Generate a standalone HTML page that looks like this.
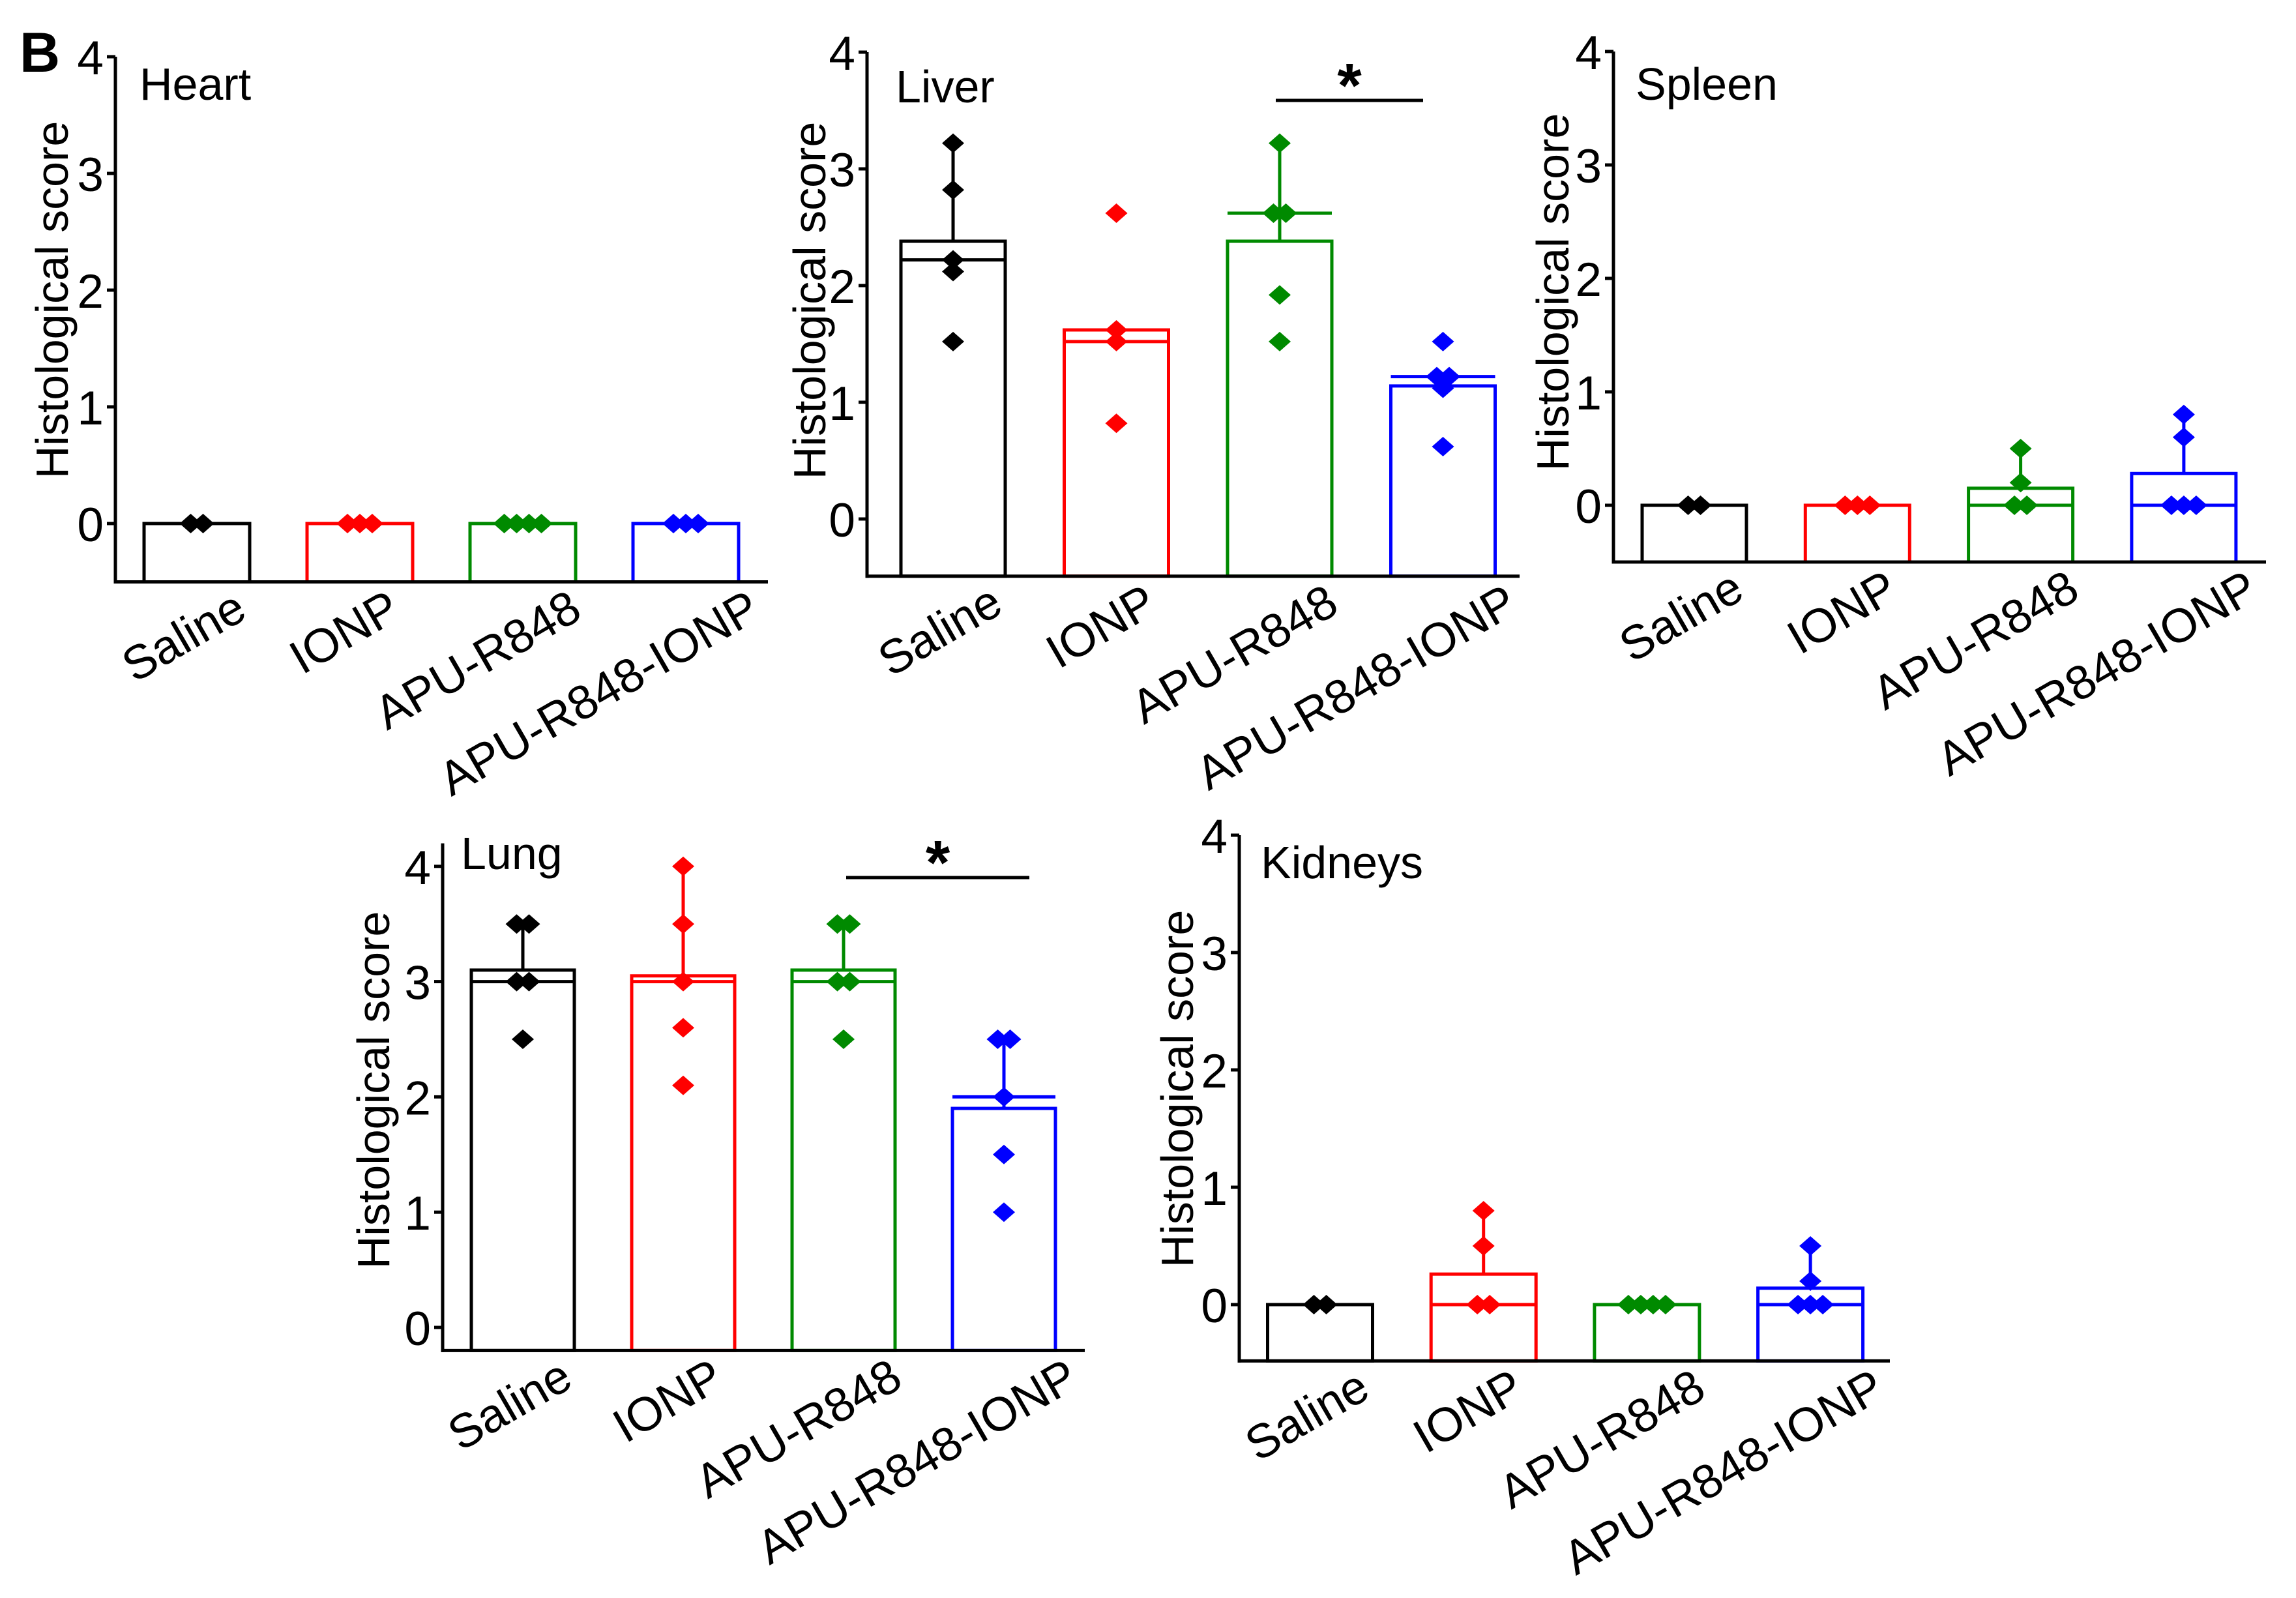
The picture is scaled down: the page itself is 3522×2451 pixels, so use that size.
<!DOCTYPE html>
<html><head><meta charset="utf-8"><style>
html,body{margin:0;padding:0;background:#fff}
svg{display:block;font-family:"Liberation Sans",Arial,sans-serif}
</style></head><body>
<svg id="fig" width="3522" height="2451" viewBox="0 0 3522 2451" xmlns="http://www.w3.org/2000/svg">
<rect width="3522" height="2451" fill="#fff"/>
<text x="30" y="110" font-size="86" font-weight="bold">B</text>
</svg>
<script>
const categories = ["Saline","IONP","APU-R848","APU-R848-IONP"];
const colors = ["#000000","#ff0000","#008a00","#0000ff"];
const yTicks = [0,1,2,3,4];

const heartMean = [0,0,0,0];
const heartMedian = [0,0,0,0];
const heartErr = [null,null,null,null];
const heartPoints = [[0,0],[0,0,0],[0,0,0,0],[0,0,0]];

const liverMean = [2.38,1.62,2.38,1.14];
const liverMedian = [2.22,1.52,2.62,1.22];
const liverErr = [3.22,null,3.22,null];
const liverPoints = [[3.22,2.82,2.22,2.12,1.52],[2.62,1.62,1.52,0.82],[3.22,2.62,2.62,1.92,1.52],[1.52,1.22,1.22,1.12,0.62]];

const spleenMean = [0,0,0.15,0.28];
const spleenMedian = [0,0,0,0];
const spleenErr = [null,null,0.5,0.8];
const spleenPoints = [[0,0],[0,0,0],[0.5,0.2,0,0],[0.8,0.6,0,0,0]];

const lungMean = [3.1,3.05,3.1,1.9];
const lungMedian = [3.0,3.0,3.0,2.0];
const lungErr = [3.5,4.0,3.5,2.5];
const lungPoints = [[3.5,3.5,3,3,2.5],[4,3.5,3,2.6,2.1],[3.5,3.5,3,3,2.5],[2.5,2.5,2.0,1.5,1.0]];

const kidneyMean = [0,0.26,0,0.14];
const kidneyMedian = [0,0,0,0];
const kidneyErr = [null,0.8,null,0.5];
const kidneyPoints = [[0,0],[0.8,0.5,0,0],[0,0,0,0],[0.5,0.2,0,0,0]];

const NS = "http://www.w3.org/2000/svg";
const svg = document.getElementById('fig');
function mk(tag, attrs, parent){
  const e = document.createElementNS(NS, tag);
  for (const k in attrs) e.setAttribute(k, attrs[k]);
  (parent||svg).appendChild(e);
  return e;
}

const panels = [
 {name:"heart", title:"Heart", axX:177, y0:803, unit:179, yMin:-0.5, yTop:4, xEnd:1178, c0:302, sp:250, bw:162, titleX:214, titleY:153, yTitleX:80, yTitleY:460,
  mean:heartMean, med:heartMedian, err:heartErr, pts:heartPoints, sig:null},
 {name:"liver", title:"Liver", axX:1330, y0:796, unit:179, yMin:-0.49, yTop:4, xEnd:2331, c0:1462, sp:250.5, bw:160, titleX:1374, titleY:157, yTitleX:1242, yTitleY:461,
  mean:liverMean, med:liverMedian, err:liverErr, pts:liverPoints, sig:{x1:1957,x2:2183,y:154}},
 {name:"spleen", title:"Spleen", axX:2475, y0:775, unit:174, yMin:-0.5, yTop:4, xEnd:3476, c0:2599, sp:250.3, bw:160, titleX:2509, titleY:153, yTitleX:2382, yTitleY:448,
  mean:spleenMean, med:spleenMedian, err:spleenErr, pts:spleenPoints, sig:null},
 {name:"lung", title:"Lung", axX:679, y0:2036, unit:176.8, yMin:-0.2, yTop:4.2, xEnd:1664, c0:802, sp:246, bw:158, titleX:707, titleY:1333, yTitleX:573, yTitleY:1672,
  mean:lungMean, med:lungMedian, err:lungErr, pts:lungPoints, sig:{x1:1298,x2:1579,y:1346}},
 {name:"kidneys", title:"Kidneys", axX:1901, y0:2001, unit:180, yMin:-0.48, yTop:4, xEnd:2899, c0:2025, sp:250.7, bw:161, titleX:1934, titleY:1347, yTitleX:1806, yTitleY:1670,
  mean:kidneyMean, med:kidneyMedian, err:kidneyErr, pts:kidneyPoints, sig:null}
];
const labelOff = [80,66,94,118];

panels.forEach(p => {
  const g = mk('g', {});
  
  
  const yS = v => p.y0 - v * p.unit;
  const xS = i => p.c0 + i * p.sp;
  const yBot = yS(p.yMin);

  categories.forEach((c, i) => {
    const col = colors[i], cx = xS(i), h = p.bw/2;
    const bar = mk('rect', {x:cx-h, y:yS(p.mean[i]), width:p.bw, height:Math.max(0,yBot-yS(p.mean[i])), fill:'none', stroke:col, 'stroke-width':5}, g);
    
    
    const md = mk('line', {x1:cx-h, x2:cx+h, y1:yS(p.med[i]), y2:yS(p.med[i]), stroke:col, 'stroke-width':5}, g);
    
    
    if (p.err[i] !== null) {
      const eg = mk('g', {stroke:col, 'stroke-width':5}, g);
      
      
      mk('line', {x1:cx, x2:cx, y1:yS(p.mean[i]), y2:yS(p.err[i])}, eg);
      mk('line', {x1:cx-13, x2:cx+13, y1:yS(p.err[i]), y2:yS(p.err[i])}, eg);
    }
    const counts = {};
    p.pts[i].forEach(v => counts[v] = (counts[v]||0)+1);
    const seen = {};
    p.pts[i].forEach(v => {
      const n = counts[v], k = (seen[v]=(seen[v]||0)+1) - 1;
      const px = cx + (k - (n-1)/2) * 19;
      const py = yS(v), sx = 17, sy = 15;
      const d = mk('polygon', {points:`${px},${py-sy} ${px+sx},${py} ${px},${py+sy} ${px-sx},${py}`, fill:col}, g);
      
      
    });
    const lx = cx + labelOff[i], ly = yBot + 54;
    const t = mk('text', {x:lx, y:ly, 'font-size':73, 'text-anchor':'end', transform:`rotate(-30 ${lx} ${ly})`}, g);
    t.textContent = c;
    
    
  });

  const ax = mk('g', {stroke:'#000', 'stroke-width':5, fill:'none'}, g);
  
  
  mk('line', {x1:p.axX, x2:p.axX, y1:yS(p.yTop), y2:yBot+2.5}, ax);
  mk('line', {x1:p.axX-2.5, x2:p.xEnd, y1:yBot, y2:yBot}, ax);
  yTicks.forEach(v => {
    mk('line', {x1:p.axX-13, x2:p.axX, y1:yS(v), y2:yS(v)}, ax);
    const tl = mk('text', {x:p.axX-18, y:yS(v)+27, 'font-size':73, 'text-anchor':'end'}, g);
    tl.textContent = v;
    
    
  });
  const yt = mk('text', {x:p.yTitleX, y:p.yTitleY, 'font-size':70, 'text-anchor':'middle', 'dominant-baseline':'central', transform:`rotate(-90 ${p.yTitleX} ${p.yTitleY})`}, g);
  yt.textContent = 'Histological score';
  
  
  const tt = mk('text', {x:p.titleX, y:p.titleY, 'font-size':70}, g);
  tt.textContent = p.title;
  
  
  if (p.sig) {
    const sl = mk('line', {x1:p.sig.x1, x2:p.sig.x2, y1:p.sig.y, y2:p.sig.y, stroke:'#000', 'stroke-width':5}, g);
    
    
    const st = mk('text', {x:(p.sig.x1+p.sig.x2)/2, y:p.sig.y+10, 'font-size':96, 'text-anchor':'middle', 'font-weight':'bold'}, g);
    st.textContent = '*';
    
    
  }
});
</script>
</body></html>
